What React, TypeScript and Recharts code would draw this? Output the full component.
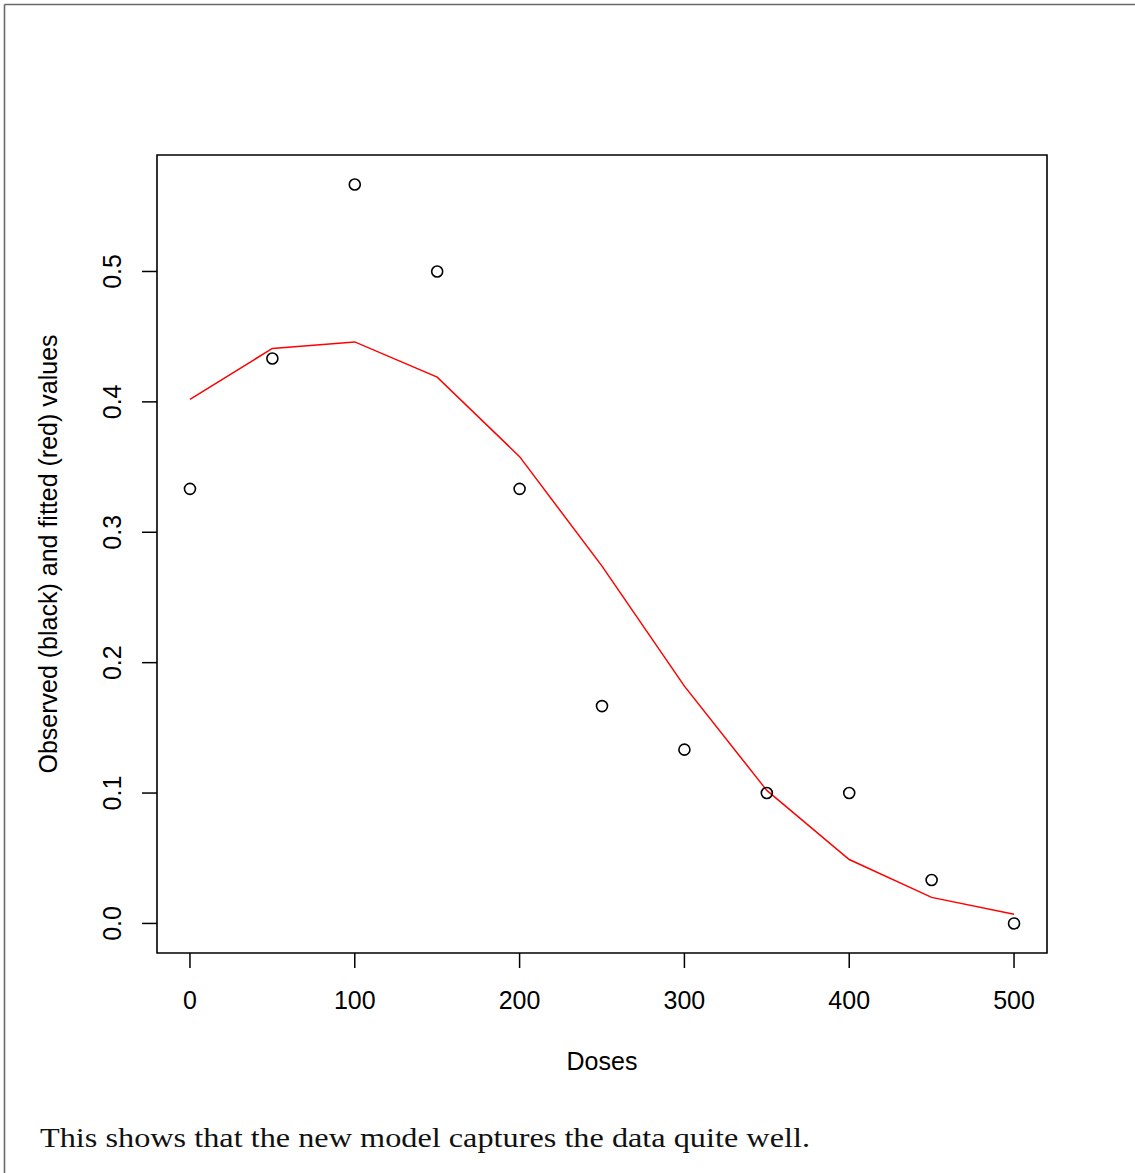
import React from 'react';
import { ComposedChart, Line, XAxis, YAxis, ReferenceArea } from 'recharts';

const doses = [0, 50, 100, 150, 200, 250, 300, 350, 400, 450, 500];
const observed = [0.3333, 0.4333, 0.5667, 0.5, 0.3333, 0.1667, 0.1333, 0.1, 0.1, 0.0333, 0.0];
const fitted = [0.402, 0.441, 0.446, 0.419, 0.358, 0.274, 0.182, 0.102, 0.049, 0.020, 0.007];
const xTicks = [0, 100, 200, 300, 400, 500];
const yTicks = [0, 0.1, 0.2, 0.3, 0.4, 0.5];
const xDomain: [number, number] = [-20, 520];
const yDomain: [number, number] = [-0.02267, 0.58933];

const data = doses.map((d, i) => ({ dose: d, observed: observed[i], fitted: fitted[i] }));

const FONT = '"Liberation Sans", Arial, Helvetica, sans-serif';

const XTick = (props: any) => {
  const { x, payload } = props;
  return (
    <g>
      <text x={x} y={1009} textAnchor="middle" fontFamily={FONT} fontSize={25} fill="#000">
        {String(payload.value)}
      </text>
    </g>
  );
};

const YTick = (props: any) => {
  const { y, payload } = props;
  const cx = 121;
  return (
    <g>
      <text
        x={cx}
        y={y}
        transform={`rotate(-90 ${cx} ${y})`}
        textAnchor="middle"
        fontFamily={FONT}
        fontSize={25}
        fill="#000"
      >
        {Number(payload.value).toFixed(1)}
      </text>
    </g>
  );
};

export default function App() {
  return (
    <div style={{ position: 'absolute', left: 0, top: 0, width: 1135, height: 1173, background: '#fff' }}>
      <ComposedChart
        width={1135}
        height={1173}
        data={data}
        margin={{ top: 155, right: 88, bottom: 160, left: 97 }}
      >
        <XAxis
          dataKey="dose"
          type="number"
          domain={xDomain}
          ticks={xTicks}
          allowDataOverflow
          height={60}
          axisLine={false}
          tickLine={{ stroke: '#000', strokeWidth: 1.5 }}
          tickSize={15}
          tick={<XTick />}
        />
        <YAxis
          type="number"
          domain={yDomain}
          ticks={yTicks}
          allowDataOverflow
          width={60}
          axisLine={false}
          tickLine={{ stroke: '#000', strokeWidth: 1.5 }}
          tickSize={15}
          tick={<YTick />}
        />
        <ReferenceArea
          x1={xDomain[0]}
          x2={xDomain[1]}
          y1={yDomain[0]}
          y2={yDomain[1]}
          fill="none"
          fillOpacity={0}
          stroke="#000"
          strokeWidth={1.6}
          ifOverflow="visible"
        />
        <Line
          dataKey="fitted"
          type="linear"
          stroke="#ff0000"
          strokeWidth={1.5}
          dot={false}
          activeDot={false}
          isAnimationActive={false}
        />
        <Line
          dataKey="observed"
          type="linear"
          stroke="none"
          strokeWidth={0}
          dot={{ r: 5.5, stroke: '#000', strokeWidth: 1.6, fill: 'none' }}
          activeDot={false}
          isAnimationActive={false}
        />
      </ComposedChart>
      <svg
        width={1135}
        height={1173}
        style={{ position: 'absolute', left: 0, top: 0, pointerEvents: 'none' }}
      >
        <line x1={4.5} y1={4.5} x2={1135} y2={4.5} stroke="#6a6a6a" strokeWidth={1.6} />
        <line x1={4.5} y1={4.5} x2={4.5} y2={1173} stroke="#6a6a6a" strokeWidth={1.6} />
        <text x={602} y={1070} textAnchor="middle" fontFamily={FONT} fontSize={25} fill="#000">
          Doses
        </text>
        <text
          x={57}
          y={554}
          transform="rotate(-90 57 554)"
          textAnchor="middle"
          fontFamily={FONT}
          fontSize={25}
          fill="#000"
        >
          Observed (black) and fitted (red) values
        </text>
        <text
          x={40}
          y={1147}
          textLength={770}
          lengthAdjust="spacingAndGlyphs"
          fontFamily={'"Liberation Serif", "Times New Roman", serif'}
          fontSize={28}
          fill="#111"
        >
          This shows that the new model captures the data quite well.
        </text>
      </svg>
    </div>
  );
}
